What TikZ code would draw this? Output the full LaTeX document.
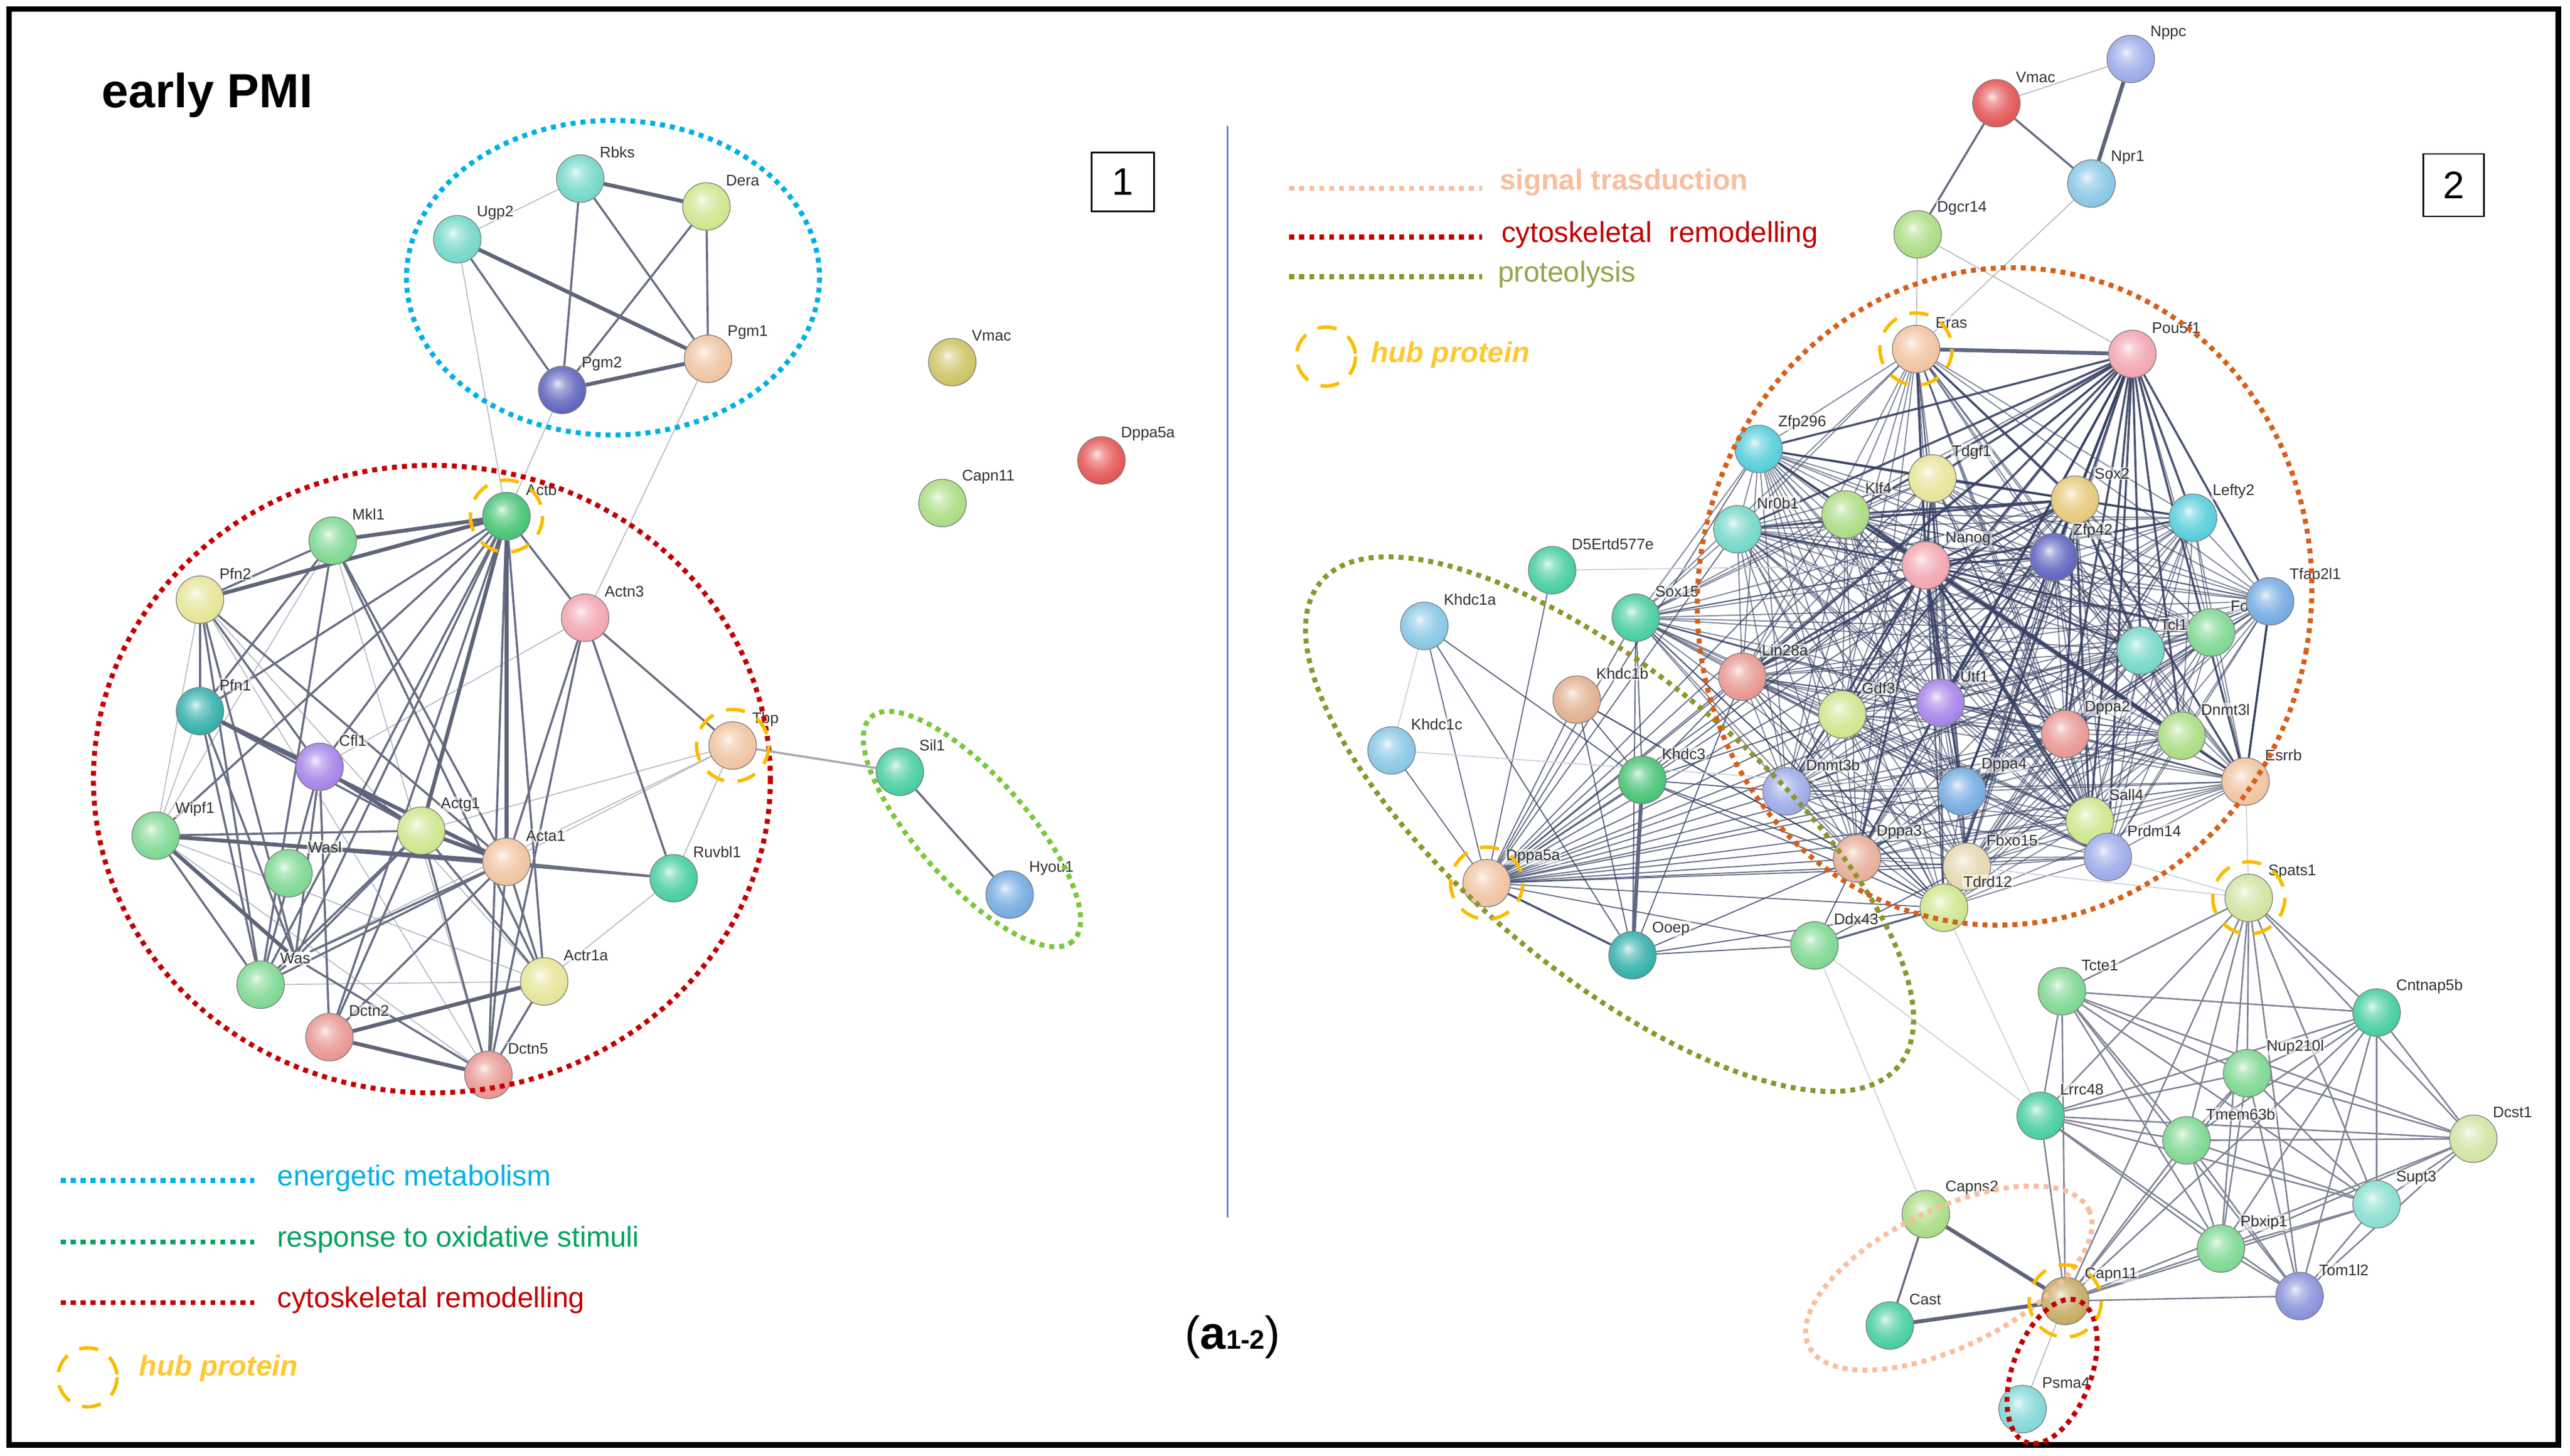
\documentclass[tikz,border=0pt]{standalone}
\usepackage{fontspec}
\setmainfont{Liberation Sans}
\pgfdeclarelayer{bg}
\pgfdeclarelayer{edges}
\pgfsetlayers{bg,edges,main}
% sphere shading (STRING-like)
\colorlet{sphc}{gray}
\pgfdeclareradialshading[sphc]{sphere}{\pgfqpoint{-5bp}{7bp}}{%
  color(0bp)=(sphc!15!white); color(7bp)=(sphc!55!white); color(17bp)=(sphc!85!white);
  color(27bp)=(sphc); color(33bp)=(sphc!70!black); color(50bp)=(sphc!55!black)}
% palette
\definecolor{cTeal}{RGB}{115,215,200}
\definecolor{cYG}{RGB}{205,230,140}
\definecolor{cPeach}{RGB}{240,195,160}
\definecolor{cNavy}{RGB}{95,100,190}
\definecolor{cKhaki}{RGB}{205,195,100}
\definecolor{cRed}{RGB}{228,85,85}
\definecolor{cLGreen}{RGB}{170,220,130}
\definecolor{cGreen}{RGB}{70,195,115}
\definecolor{cMGreen}{RGB}{125,215,145}
\definecolor{cPYellow}{RGB}{230,228,150}
\definecolor{cPink}{RGB}{242,165,175}
\definecolor{cDTeal}{RGB}{50,175,170}
\definecolor{cPurple}{RGB}{165,130,232}
\definecolor{cSea}{RGB}{70,205,160}
\definecolor{cBlue}{RGB}{115,170,225}
\definecolor{cSalmon}{RGB}{232,150,145}
\definecolor{cPeri}{RGB}{155,170,232}
\definecolor{cSky}{RGB}{135,198,228}
\definecolor{cCyan}{RGB}{85,205,218}
\definecolor{cTan}{RGB}{230,200,120}
\definecolor{cKb}{RGB}{225,175,142}
\definecolor{cCream}{RGB}{230,214,175}
\definecolor{cPale}{RGB}{208,228,162}
\definecolor{cAqua}{RGB}{135,222,208}
\definecolor{cTom}{RGB}{135,145,218}
\definecolor{cOl}{RGB}{198,170,98}
\definecolor{cPsma}{RGB}{130,215,215}
\definecolor{cDp3}{RGB}{232,172,152}
% edges / legend colours
\definecolor{eLight}{RGB}{180,183,195}
\definecolor{eMid}{RGB}{105,110,132}
\definecolor{eDark}{RGB}{95,100,122}
\definecolor{eCore}{RGB}{55,65,100}
\definecolor{lBlue}{RGB}{0,176,230}
\definecolor{lGreen}{RGB}{0,163,95}
\definecolor{lGreenE}{RGB}{120,200,60}
\definecolor{lRed}{RGB}{195,0,0}
\definecolor{lHub}{RGB}{250,188,0}
\definecolor{lHubT}{RGB}{255,200,50}
\definecolor{lPeach}{RGB}{248,190,160}
\definecolor{lOlive}{RGB}{140,150,45}
\definecolor{lOliveT}{RGB}{155,162,75}
\definecolor{lOrange}{RGB}{215,95,25}
\definecolor{lDiv}{RGB}{90,140,210}
% protein: name, x, y, colour, label
\newcommand\prot[5]{%
  \node[ball,sph=#4] (#1) at (#2,#3) {};
  \node[lab] (#1l) at ({#2+11},{#3-16}) {#5};}
\begin{document}
\begin{tikzpicture}[x=0.03cm,y=-0.03cm,
  sph/.style={/utils/exec={\colorlet{sphc}{#1}},shade,shading=sphere},
  ball/.style={circle,inner sep=0pt,minimum size=0.87cm,draw=black!50,line width=0.4pt},
  lab/.style={anchor=west,inner sep=0.6pt,font=\fontsize{8}{9}\selectfont,text=black!80,fill=white,fill opacity=0.55,text opacity=1},
  e1/.style={line width=0.5pt,draw=eLight},
  e2/.style={line width=1.1pt,draw=eMid},
  e3/.style={line width=2pt,draw=eDark},
  core/.style={line width=0.6pt,draw=eCore,opacity=0.62},
  coreh/.style={line width=1.15pt,draw=eCore,opacity=0.8},
  bot/.style={line width=0.8pt,draw=eMid!85},
  dotl/.style={line width=2.6pt,dash pattern=on 2.6pt off 2.6pt},
  hubc/.style={draw=lHub,line width=1.8pt,dash pattern=on 10pt off 7pt},
  legt/.style={anchor=west,inner sep=0pt,font=\fontsize{15}{18}\selectfont}]
\useasboundingbox (0,0) rectangle (1568,888.6);
\begin{pgfonlayer}{bg}
\fill[white] (0,0) rectangle (1568,888.6);
\end{pgfonlayer}
\draw[line width=3pt] (5.5,5.5) rectangle (1561,882);
\draw[lDiv,line width=0.8pt] (749,77) -- (749,743);

% ---------------- titles
\node[anchor=west,inner sep=0pt,font=\fontsize{25}{28}\selectfont\bfseries] (title) at (62,58) {early PMI};
\node[draw,line width=0.8pt,minimum width=1.14cm,minimum height=1.08cm,inner sep=0pt,font=\fontsize{20}{24}\selectfont] (box1) at (685,111) {1};
\node[draw,line width=0.8pt,minimum width=1.11cm,minimum height=1.14cm,inner sep=0pt,font=\fontsize{20}{24}\selectfont] (box2) at (1497,113) {2};
\node[inner sep=0pt,font=\fontsize{24}{28}\selectfont] (panel) at (752,816) {(\textbf{a}{\fontsize{14}{16}\selectfont\textbf{1-2}})};

% ---------------- left network nodes
\prot{Rbks}{354}{109}{cTeal}{Rbks}
\prot{Dera}{431}{126}{cYG}{Dera}
\prot{Ugp2}{279}{146}{cTeal}{Ugp2}
\prot{Pgm1}{432}{219}{cPeach}{Pgm1}
\prot{Pgm2}{343}{238}{cNavy}{Pgm2}
\prot{VmacL}{581}{221}{cKhaki}{Vmac}
\prot{DppaL}{672}{281}{cRed}{Dppa5a}
\prot{CapnL}{575}{307}{cLGreen}{Capn11}
\prot{Actb}{309}{315}{cGreen}{Actb}
\prot{Mkl1}{203}{330}{cMGreen}{Mkl1}
\prot{Pfn2}{122}{366}{cPYellow}{Pfn2}
\prot{Actn3}{357}{377}{cPink}{Actn3}
\prot{Pfn1}{122}{434}{cDTeal}{Pfn1}
\prot{Cfl1}{195}{468}{cPurple}{Cfl1}
\prot{Tbp}{447}{455}{cPeach}{Tbp}
\prot{Sil1}{549}{471}{cSea}{Sil1}
\prot{Hyou1}{616}{546}{cBlue}{Hyou1}
\prot{Wipf1}{95}{510}{cMGreen}{Wipf1}
\prot{Actg1}{257}{507}{cYG}{Actg1}
\prot{Wasl}{176}{533}{cMGreen}{Wasl}
\prot{Acta1}{309}{526}{cPeach}{Acta1}
\prot{Ruvbl1}{411}{536}{cSea}{Ruvbl1}
\prot{Was}{159}{601}{cMGreen}{Was}
\prot{Actr1a}{332}{599}{cPYellow}{Actr1a}
\prot{Dctn2}{201}{633}{cSalmon}{Dctn2}
\prot{Dctn5}{298}{656}{cSalmon}{Dctn5}

% ---------------- right network nodes
\prot{Nppc}{1300}{36}{cPeri}{Nppc}
\prot{VmacR}{1218}{63}{cRed}{Vmac}
\prot{Npr1}{1276}{112}{cSky}{Npr1}
\prot{Dgcr14}{1170}{143}{cLGreen}{Dgcr14}
\prot{Eras}{1169}{213}{cPeach}{Eras}
\prot{Pou5f1}{1301}{216}{cPink}{Pou5f1}
\prot{Zfp296}{1073}{274}{cCyan}{Zfp296}
\prot{Tdgf1}{1179}{292}{cPYellow}{Tdgf1}
\prot{Sox2}{1266}{305}{cTan}{Sox2}
\prot{Klf4}{1126}{314}{cLGreen}{Klf4}
\prot{Nr0b1}{1060}{323}{cTeal}{Nr0b1}
\prot{Lefty2}{1338}{316}{cCyan}{Lefty2}
\prot{Nanog}{1175}{345}{cPink}{Nanog}
\prot{Zfp42}{1253}{340}{cNavy}{Zfp42}
\prot{D5Ertd}{947}{348}{cSea}{D5Ertd577e}
\prot{Fo}{1349}{386}{cMGreen}{Fo}
\prot{Tfap2l1}{1385}{367}{cBlue}{Tfap2l1}
\prot{Khdc1a}{869}{382}{cSky}{Khdc1a}
\prot{Sox15}{998}{377}{cSea}{Sox15}
\prot{Tcl1}{1306}{397}{cTeal}{Tcl1}
\prot{Lin28a}{1063}{413}{cSalmon}{Lin28a}
\prot{Khdc1b}{962}{427}{cKb}{Khdc1b}
\prot{Utf1}{1184}{429}{cPurple}{Utf1}
\prot{Gdf3}{1124}{436}{cYG}{Gdf3}
\prot{Dppa2}{1260}{448}{cSalmon}{Dppa2}
\prot{Dnmt3l}{1331}{449}{cLGreen}{Dnmt3l}
\prot{Khdc1c}{849}{458}{cSky}{Khdc1c}
\prot{Khdc3}{1002}{476}{cGreen}{Khdc3}
\prot{Dnmt3b}{1090}{483}{cPeri}{Dnmt3b}
\prot{Dppa4}{1197}{483}{cBlue}{Dppa4}
\prot{Esrrb}{1370}{477}{cPeach}{Esrrb}
\prot{Sall4}{1275}{501}{cYG}{Sall4}
\prot{Dppa3}{1133}{524}{cDp3}{Dppa3}
\prot{Fbxo15}{1200}{529}{cCream}{Fbxo15}
\prot{Prdm14}{1286}{523}{cPeri}{Prdm14}
\prot{DppaR}{907}{539}{cPeach}{Dppa5a}
\prot{Tdrd12}{1186}{554}{cYG}{Tdrd12}
\prot{Spats1}{1372}{548}{cPale}{Spats1}
\prot{Ooep}{996}{583}{cDTeal}{Ooep}
\prot{Ddx43}{1107}{577}{cMGreen}{Ddx43}
\prot{Tcte1}{1258}{605}{cMGreen}{Tcte1}
\prot{Cntnap5b}{1450}{618}{cSea}{Cntnap5b}
\prot{Nup210l}{1371}{655}{cMGreen}{Nup210l}
\prot{Lrrc48}{1245}{681}{cSea}{Lrrc48}
\prot{Tmem63b}{1334}{696}{cMGreen}{Tmem63b}
\prot{Dcst1}{1509}{695}{cPale}{Dcst1}
\prot{Supt3}{1450}{735}{cAqua}{Supt3}
\prot{Capns2}{1175}{741}{cLGreen}{Capns2}
\prot{Pbxip1}{1355}{762}{cMGreen}{Pbxip1}
\prot{Tom1l2}{1403}{791}{cTom}{Tom1l2}
\prot{CapnR}{1260}{794}{cOl}{Capn11}
\prot{Cast}{1153}{809}{cSea}{Cast}
\prot{Psma4}{1234}{860}{cPsma}{Psma4}

% ---------------- edges
\def\corelist{Eras,Pou5f1,Zfp296,Tdgf1,Sox2,Klf4,Nr0b1,Lefty2,Nanog,Zfp42,Tfap2l1,Fo,Tcl1,Lin28a,Utf1,Gdf3,Dppa2,Dnmt3l,Dnmt3b,Dppa4,Esrrb,Sall4,Dppa3,Fbxo15,Prdm14,Tdrd12,Sox15}
\def\botlist{Spats1,Tcte1,Cntnap5b,Nup210l,Lrrc48,Tmem63b,Dcst1,Supt3,Pbxip1,Tom1l2,CapnR}
\begin{pgfonlayer}{edges}
% left, energetic cluster
\foreach \a/\b in {Rbks/Dera,Ugp2/Pgm1,Pgm2/Pgm1} \draw[e3] (\a) -- (\b);
\foreach \a/\b in {Rbks/Pgm2,Rbks/Pgm1,Ugp2/Pgm2,Dera/Pgm2,Dera/Pgm1} \draw[e2] (\a) -- (\b);
\foreach \a/\b in {Rbks/Ugp2,Ugp2/Actb,Pgm2/Actb,Pgm1/Actn3} \draw[e1] (\a) -- (\b);
% left, cytoskeletal cluster
\foreach \a/\b in {Cfl1/Actn3,Pfn2/Actr1a,Wipf1/Actr1a,Tbp/Ruvbl1,Tbp/Actg1,Tbp/Acta1,Ruvbl1/Actr1a,Was/Actr1a,Pfn1/Wipf1,Mkl1/Wipf1,Wipf1/Dctn5,Tbp/Wasl,Pfn2/Dctn5,Mkl1/Dctn5,Pfn2/Wipf1}
  \draw[e1] (\a) -- (\b);
\draw[e2,draw=eMid!60] (Tbp) -- (Sil1);
\foreach \a/\b in {Actb/Actn3,Actb/Pfn1,Actb/Cfl1,Actb/Wipf1,Actb/Wasl,Actb/Was,Actb/Dctn2,Actb/Dctn5,Actb/Actr1a,Mkl1/Pfn2,Mkl1/Pfn1,Mkl1/Acta1,Mkl1/Actr1a,Mkl1/Was,Pfn2/Pfn1,Pfn2/Wasl,Pfn2/Was,Pfn2/Cfl1,Pfn2/Acta1,Pfn1/Cfl1,Pfn1/Wasl,Pfn1/Was,Pfn1/Actg1,Cfl1/Wasl,Cfl1/Was,Cfl1/Dctn2,Wipf1/Actg1,Wipf1/Was,Wasl/Actg1,Wasl/Acta1,Wasl/Was,Wasl/Dctn5,Actg1/Was,Actg1/Dctn2,Actg1/Dctn5,Actg1/Actr1a,Acta1/Ruvbl1,Acta1/Dctn5,Acta1/Actr1a,Acta1/Dctn2,Acta1/Was,Actn3/Ruvbl1,Actn3/Tbp,Actn3/Acta1,Actn3/Dctn5,Actr1a/Dctn5,Wipf1/Ruvbl1,Sil1/Hyou1}
  \draw[e2] (\a) -- (\b);
\foreach \a/\b in {Actb/Mkl1,Actb/Pfn2,Actb/Acta1,Actb/Actg1,Pfn1/Acta1,Cfl1/Actg1,Wipf1/Wasl,Wipf1/Acta1,Dctn2/Dctn5,Dctn2/Actr1a,Actg1/Acta1}
  \draw[e3] (\a) -- (\b);
% right, top
\draw[e3] (Nppc) -- (Npr1);
\foreach \a/\b in {VmacR/Npr1,VmacR/Dgcr14} \draw[e2] (\a) -- (\b);
\foreach \a/\b in {VmacR/Nppc,Dgcr14/Eras,Dgcr14/Pou5f1,Npr1/Eras} \draw[e1] (\a) -- (\b);
% right, dense core
\foreach \a [count=\i] in \corelist {
  \foreach \b [count=\j] in \corelist {
    \ifnum\j>\i \draw[core] (\a) -- (\b); \fi
  }
}
\foreach \b in {Eras,Zfp296,Tdgf1,Sox2,Klf4,Nr0b1,Lefty2,Nanog,Zfp42,Tfap2l1,Tcl1,Lin28a,Utf1,Gdf3,Dppa2,Dnmt3l,Dppa4,Esrrb,Sall4,Dppa3,Prdm14,Tdrd12}
  \draw[coreh] (Pou5f1) -- (\b);
\foreach \b in {Eras,Zfp296,Tdgf1,Sox2,Klf4,Nr0b1,Lefty2,Zfp42,Tcl1,Lin28a,Utf1,Gdf3,Dppa2,Dnmt3l,Dnmt3b,Dppa4,Esrrb,Sall4,Dppa3,Prdm14,Fo}
  \draw[coreh] (Nanog) -- (\b);
\foreach \b in {Eras,Zfp296,Klf4,Nr0b1,Lefty2,Zfp42,Utf1,Dppa2,Dppa4,Esrrb,Sall4,Lin28a,Tcl1}
  \draw[coreh] (Sox2) -- (\b);
\draw[e3,draw=eCore!80] (Eras) -- (Pou5f1);
\draw[e2,draw=eCore] (Tfap2l1) -- (Esrrb);
% right, proteolysis cluster
\foreach \b in {Sox15,Lin28a,Nanog,Utf1,Gdf3,Dnmt3b,Dppa3,Dppa4,Fbxo15,Tdrd12,Sall4,Prdm14,Esrrb,Dppa2,Dnmt3l,Tcl1,Pou5f1,Zfp42,Klf4,Nr0b1,Zfp296,Tdgf1,Sox2,Khdc1a,Khdc1b,Khdc3,Ddx43,Khdc1c,D5Ertd}
  \draw[core,opacity=0.75] (DppaR) -- (\b);
\draw[e2,draw=eCore!90] (DppaR) -- (Ooep);
\foreach \a/\b in {Ooep/Khdc1a,Ooep/Khdc1b,Ooep/Ddx43,Ooep/Tdrd12,Ooep/Dppa3,Ooep/Sox15,Ooep/Lin28a,Khdc3/Khdc1b,Khdc3/Sox15,Khdc3/Lin28a,Khdc3/Dppa3,Khdc3/Tdrd12,Khdc3/Dnmt3b,Khdc3/Khdc1a,Khdc3/Gdf3,Khdc3/Nanog,Khdc1b/Tdrd12,Khdc1b/Dppa3,Ddx43/Dppa3,Ddx43/Fbxo15,Sox15/Tdrd12,Lin28a/Tdrd12}
  \draw[core,opacity=0.8] (\a) -- (\b);
\draw[e3,draw=eCore!80] (Ooep) -- (Khdc3);
\draw[e2,draw=eCore!80] (Ddx43) -- (Tdrd12);
\foreach \a/\b in {D5Ertd/Nanog,Khdc1c/Dppa4,Khdc1a/Khdc1c,Tdrd12/Lrrc48,Ddx43/Capns2,Spats1/Esrrb,Spats1/Prdm14,Spats1/Fbxo15,Ddx43/Lrrc48}
  \draw[e1,draw=eLight!70] (\a) -- (\b);
% right, bottom cluster
\foreach \a [count=\i] in \botlist {
  \foreach \b [count=\j] in \botlist {
    \ifnum\j>\i \draw[bot] (\a) -- (\b); \fi
  }
}
\foreach \a/\b in {Capns2/CapnR,Cast/CapnR} \draw[e3] (\a) -- (\b);
\draw[e2] (Capns2) -- (Cast);
\draw[e1] (CapnR) -- (Psma4);
\end{pgfonlayer}

% ---------------- functional groups (dotted)
\draw[dotl,draw=lBlue] (374,169.5) ellipse [x radius=126, y radius=96];
\draw[dotl,draw=lRed] (263.5,475.5) ellipse [x radius=206.5, y radius=191.5];
\draw[dotl,draw=lGreenE,rotate around={-48:(593,506)}] (593,506) ellipse [x radius=92, y radius=33];
\draw[dotl,draw=lOlive,rotate around={-40:(982,503)}] (982,503) ellipse [x radius=230, y radius=90];
\draw[dotl,draw=lOrange,rotate around={-10:(1223,364)}] (1223,364) ellipse [x radius=187, y radius=201];
\draw[dotl,draw=lPeach,rotate around={26:(1189,780)}] (1189,780) ellipse [x radius=95, y radius=42];
\draw[dotl,draw=lRed,rotate around={-20:(1252,837)}] (1252,837) ellipse [x radius=24, y radius=46];

% ---------------- hub proteins
\foreach \h in {Actb,Tbp,Eras,DppaR,Spats1,CapnR}
  \draw[hubc] (\h) circle [radius=22];

% ---------------- legends
\draw[dotl,draw=lBlue] (37,720.5) -- (155,720.5);
\node[legt,text=lBlue] (lg1) at (169,719) {energetic metabolism};
\draw[dotl,draw=lGreen] (37,758) -- (155,758);
\node[legt,text=lGreen] (lg2) at (169,756.5) {response to oxidative stimuli};
\draw[dotl,draw=lRed] (37,795) -- (155,795);
\node[legt,text=lRed] (lg3) at (169,793.5) {cytoskeletal remodelling};
\draw[hubc] (53.4,840.6) circle [radius=18];
\node[legt,text=lHubT,font=\fontsize{15}{18}\selectfont\bfseries\itshape] (lg4) at (84.8,835) {hub protein};

\draw[dotl,draw=lPeach] (786.6,114.9) -- (904.3,114.9);
\node[legt,text=lPeach,font=\fontsize{15}{18}\selectfont\bfseries] (rg1) at (914.8,111.5) {signal trasduction};
\draw[dotl,draw=lRed] (786.6,144.7) -- (904.3,144.7);
\node[legt,text=lRed] (rg2) at (915.8,143.3) {cytoskeletal\hspace{0.6em}remodelling};
\draw[dotl,draw=lOlive] (786.6,168.8) -- (904.3,168.8);
\node[legt,text=lOliveT] (rg3) at (913.7,167.5) {proteolysis};
\draw[hubc] (809,217.6) circle [radius=18];
\node[legt,text=lHubT,font=\fontsize{15}{18}\selectfont\bfseries\itshape] (rg4) at (836.3,216.5) {hub protein};
\end{tikzpicture}
\end{document}
